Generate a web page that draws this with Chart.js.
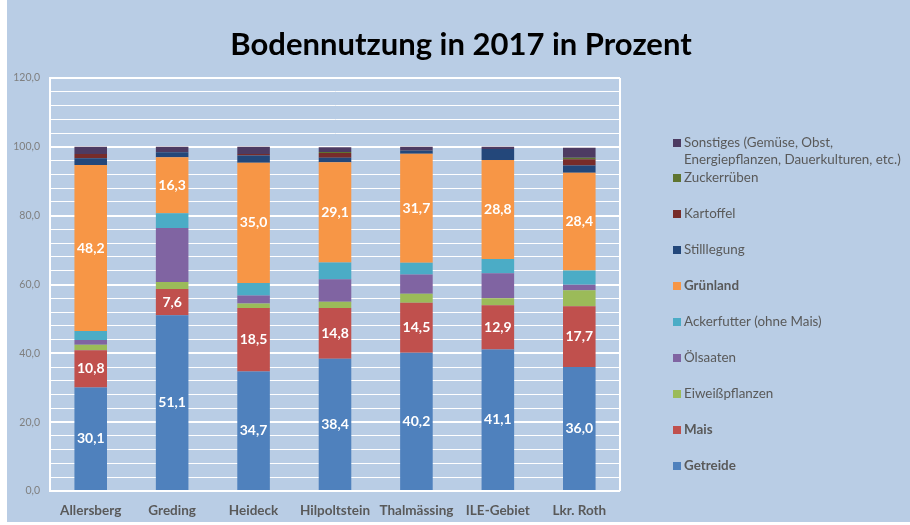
<!DOCTYPE html>
<html>
<head>
<meta charset="utf-8">
<script src="https://cdn.jsdelivr.net/npm/chart.js@4.4.0/dist/chart.umd.min.js"></script>
<style>
  html, body { margin: 0; padding: 0; background: #fff; }
  #wrap { width: 910px; height: 525px; }
</style>
</head>
<body>
<div id="wrap"><canvas id="landChart" width="910" height="525"></canvas></div>
<script>
// Kategorien (Gemeinden)
const regions = ['Allersberg', 'Greding', 'Heideck', 'Hilpoltstein', 'Thalmässing', 'ILE-Gebiet', 'Lkr. Roth'];

// Anteile in Prozent, von unten nach oben gestapelt
const getreide     = [30.1, 51.1, 34.7, 38.4, 40.2, 41.1, 36.0];
const mais         = [10.8,  7.6, 18.5, 14.8, 14.5, 12.9, 17.7];
const eiweiss      = [ 1.6,  2.0,  1.3,  1.8,  2.6,  2.0,  4.6];
const oelsaaten    = [ 1.4, 15.7,  2.3,  6.5,  5.6,  7.3,  1.6];
const ackerfutter  = [ 2.6,  4.3,  3.6,  4.9,  3.4,  4.1,  4.2];
const gruenland    = [48.2, 16.3, 35.0, 29.1, 31.7, 28.8, 28.4];
const stilllegung  = [ 2.0,  1.4,  2.1,  1.3,  0.9,  3.2,  2.1];
const kartoffel    = [ 1.2,  0.0,  0.4,  1.4,  0.2,  0.0,  1.8];
const zuckerrueben = [ 0.0,  0.0,  0.0,  0.3,  0.0,  0.0,  0.4];
const sonstiges    = [ 2.1,  1.6,  2.1,  1.4,  0.9,  0.6,  2.9];

const yTickLabels = ['0,0', '20,0', '40,0', '60,0', '80,0', '100,0', '120,0'];

const titleText = 'Bodennutzung in 2017 in Prozent';
const fontFam = 'Lato, "Open Sans", sans-serif';
const bgBlue = '#b9cde5';

const series = [
    { label: 'Getreide', data: getreide, color: '#4f81bd', bold: true, showValues: true },
    { label: 'Mais', data: mais, color: '#c0504d', bold: true, showValues: true },
    { label: 'Eiweißpflanzen', data: eiweiss, color: '#9bbb59' },
    { label: 'Ölsaaten', data: oelsaaten, color: '#8064a2' },
    { label: 'Ackerfutter (ohne Mais)', data: ackerfutter, color: '#4bacc6' },
    { label: 'Grünland', data: gruenland, color: '#f79646', bold: true, showValues: true },
    { label: 'Stilllegung', data: stilllegung, color: '#23477a' },
    { label: 'Kartoffel', data: kartoffel, color: '#772c2a' },
    { label: 'Zuckerrüben', data: zuckerrueben, color: '#5f7530' },
    { label: ['Sonstiges (Gemüse, Obst,', 'Energiepflanzen, Dauerkulturen, etc.)'], data: sonstiges, color: '#4d3b62' }
];

const fmt = v => v.toFixed(1).replace('.', ',');

// Hintergrund mit weißem Rand links und unten, Titel über die ganze Breite zentriert
const backgroundPlugin = {
    id: 'bgFill',
    beforeDraw(chart) {
        const c = chart.ctx;
        c.save();
        c.fillStyle = '#ffffff';
        c.fillRect(0, 0, chart.width, chart.height);
        c.fillStyle = bgBlue;
        c.fillRect(7, 0, chart.width - 7, chart.height - 3);
        c.fillStyle = '#000000';
        c.font = 'bold 31px ' + fontFam;
        c.textAlign = 'center';
        c.textBaseline = 'middle';
        c.fillText(titleText, 461, 45);
        c.restore();
    }
};

// Werte in die Balken schreiben (nur Getreide, Mais, Grünland)
const valueLabelPlugin = {
    id: 'valueLabels',
    afterDatasetsDraw(chart) {
        const c = chart.ctx;
        c.save();
        c.font = 'bold 14px ' + fontFam;
        c.fillStyle = '#ffffff';
        c.textAlign = 'center';
        c.textBaseline = 'middle';
        chart.data.datasets.forEach((ds, i) => {
            if (!series[i].showValues) return;
            chart.getDatasetMeta(i).data.forEach((bar, j) => {
                const mid = (bar.y + bar.base) / 2;
                c.fillText(fmt(ds.data[j]), bar.x, mid);
            });
        });
        c.restore();
    }
};

// Legende rechts, oberster Stapel zuerst
const legendPlugin = {
    id: 'sideLegend',
    afterDraw(chart) {
        const c = chart.ctx;
        const boxX = 673, textX = 684;
        const rowY = [143, 178, 214, 250, 286, 322, 358, 394, 430, 466];
        c.save();
        c.textBaseline = 'middle';
        const items = series.slice().reverse();
        items.forEach((s, k) => {
            const y = rowY[k];
            c.fillStyle = s.color;
            c.fillRect(boxX, y - 4, 8, 8);
            c.fillStyle = '#595959';
            c.font = (s.bold ? 'bold ' : '') + '13.4px ' + fontFam;
            const lines = Array.isArray(s.label) ? s.label : [s.label];
            lines.forEach((ln, li) => c.fillText(ln, textX, y + li * 17));
        });
        c.restore();
    }
};

const ctx = document.getElementById('landChart').getContext('2d');

new Chart(ctx, {
    type: 'bar',
    data: {
        labels: regions,
        datasets: series.map(s => ({
            label: Array.isArray(s.label) ? s.label.join(' ') : s.label,
            data: s.data,
            backgroundColor: s.color,
            borderWidth: 0,
            categoryPercentage: 1.0,
            barPercentage: 0.4
        }))
    },
    options: {
        responsive: false,
        animation: false,
        layout: { padding: { left: 8, right: 290, top: 78, bottom: 4 } },
        plugins: {
            legend: { display: false },
            tooltip: { enabled: false },
            title: { display: false }
        },
        scales: {
            x: {
                stacked: true,
                grid: { display: false },
                border: { display: false },
                ticks: {
                    color: '#595959',
                    font: { family: fontFam, size: 13.5, weight: 'bold' },
                    padding: 4
                },
                afterFit(scale) { scale.height = 30; }
            },
            y: {
                stacked: true,
                min: 0,
                max: 120,
                grid: {
                    color: '#ffffff',
                    lineWidth: c => (c.tick && c.tick.value % 20 === 0) ? 2 : 1,
                    drawTicks: false
                },
                border: { display: true, color: '#ffffff', width: 2 },
                ticks: {
                    stepSize: 4,
                    autoSkip: false,
                    color: '#7f7f7f',
                    font: { family: fontFam, size: 10.5 },
                    padding: 10,
                    callback: v => (v % 20 === 0) ? yTickLabels[v / 20] : ''
                },
                afterFit(scale) { scale.width = 42; }
            }
        }
    },
    plugins: [backgroundPlugin, valueLabelPlugin, legendPlugin, {
        id: 'rightEdge',
        beforeDatasetsDraw(chart) {
            const a = chart.chartArea;
            const c = chart.ctx;
            c.save();
            c.strokeStyle = '#ffffff';
            c.lineWidth = 2;
            c.beginPath();
            c.moveTo(a.right, a.top);
            c.lineTo(a.right, a.bottom);
            c.stroke();
            c.restore();
        }
    }]
});
</script>
</body>
</html>
